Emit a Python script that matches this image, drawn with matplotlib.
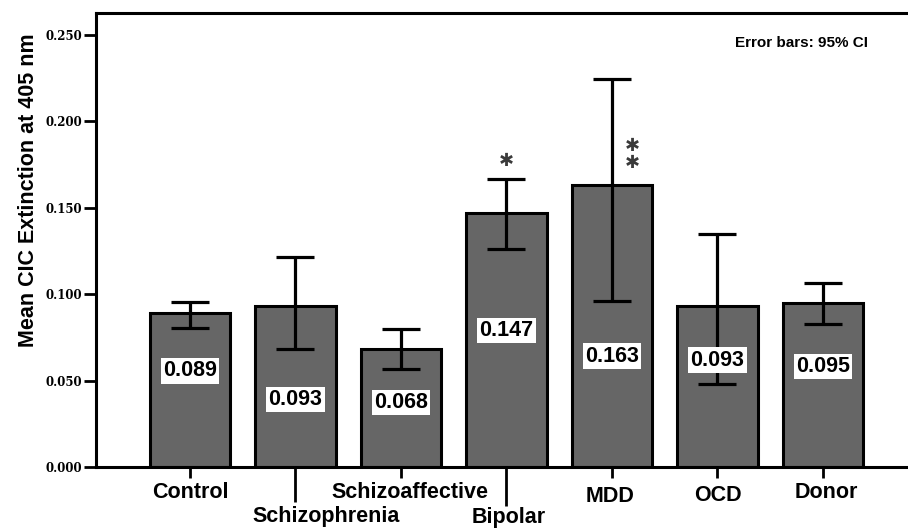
import matplotlib
matplotlib.use('Agg')
import matplotlib.pyplot as plt

# dados do gráfico
grupos = ['Control', 'Schizophrenia', 'Schizoaffective', 'Bipolar', 'MDD', 'OCD', 'Donor']
medias = [0.089, 0.093, 0.068, 0.147, 0.163, 0.093, 0.095]
ic_sup = [0.0957, 0.1214, 0.0799, 0.1667, 0.2244, 0.1347, 0.1063]
ic_inf = [0.0803, 0.0681, 0.0567, 0.1260, 0.0961, 0.0480, 0.0828]
rotulos = ['0.089', '0.093', '0.068', '0.147', '0.163', '0.093', '0.095']
rotulo_y = [0.0556, 0.0392, 0.0372, 0.0789, 0.0642, 0.0619, 0.0580]
yticks = [0.000, 0.050, 0.100, 0.150, 0.200, 0.250]

# asteriscos de significância (grupo, altura)
asteriscos = [(3, 0.177), (4, 0.1858), (4, 0.1757)]

fonte = 'Liberation Sans'

fig = plt.figure(figsize=(9.08, 5.28), dpi=100)
ax = fig.add_axes([96 / 908, 61 / 528, 1 - 96 / 908, 454 / 528])

x = list(range(len(grupos)))
erro = [[m - lo for m, lo in zip(medias, ic_inf)], [hi - m for m, hi in zip(medias, ic_sup)]]
ax.bar(x, medias, width=0.76, color='#666666', edgecolor='black', linewidth=2.2, zorder=2)
ax.errorbar(x, medias, yerr=erro, fmt='none', ecolor='black', elinewidth=2.3,
            capsize=13.5, capthick=2.3, zorder=3)

# rótulos dos valores dentro das barras
for i, v in enumerate(rotulos):
    ax.text(i, rotulo_y[i], v, ha='center', va='center', fontsize=15.5, fontweight='bold',
            family=fonte, zorder=4,
            bbox=dict(boxstyle='square,pad=0.1', facecolor='white', edgecolor='none'))

for g, h in asteriscos:
    dx = 0.0 if g == 3 else 0.19
    ax.text(g + dx, h, '\u2731', ha='center', va='center', fontsize=13, color='#3a3a3a',
            family='DejaVu Sans', zorder=4)

ax.text(0.951, 0.935, 'Error bars: 95% CI', transform=ax.transAxes, ha='right', va='center',
        fontsize=11, fontweight='bold', family=fonte)

ax.set_xlim(-0.89, 6.806)
ax.set_ylim(0, 0.2627)
ax.set_yticks(yticks)
ax.set_yticklabels(['%.3f' % t for t in yticks], family='DejaVu Serif', fontweight='bold', fontsize=8.5)
ax.set_ylabel('Mean CIC Extinction at 405 nm', fontsize=15.5, fontweight='bold', family=fonte)
ax.yaxis.set_label_coords(-0.07, 0.61)

ax.set_xticks(x)
ax.set_xticklabels([''] * len(grupos))
ax.tick_params(axis='y', length=9, width=2, pad=1)
ax.tick_params(axis='x', length=8, width=2)
# ticks compridos para os rótulos deslocados
ax.xaxis.get_major_ticks()[1].tick1line.set_markersize(25)
ax.xaxis.get_major_ticks()[3].tick1line.set_markersize(28)

# rótulos do eixo x (deslocamento em x, posição vertical em eixos)
desloc_x = [0.0, 0.29, 0.09, 0.02, -0.02, 0.0, 0.03]
pos_y = [-0.057, -0.110, -0.057, -0.112, -0.066, -0.062, -0.057]
for i, g in enumerate(grupos):
    ax.text(i + desloc_x[i], pos_y[i], g, transform=ax.get_xaxis_transform(), ha='center',
            va='center', fontsize=15.5, fontweight='bold', family=fonte)

for s in ['left', 'bottom', 'top']:
    ax.spines[s].set_linewidth(2.2)
ax.spines['right'].set_visible(False)

plt.savefig('out.png', dpi=100)
